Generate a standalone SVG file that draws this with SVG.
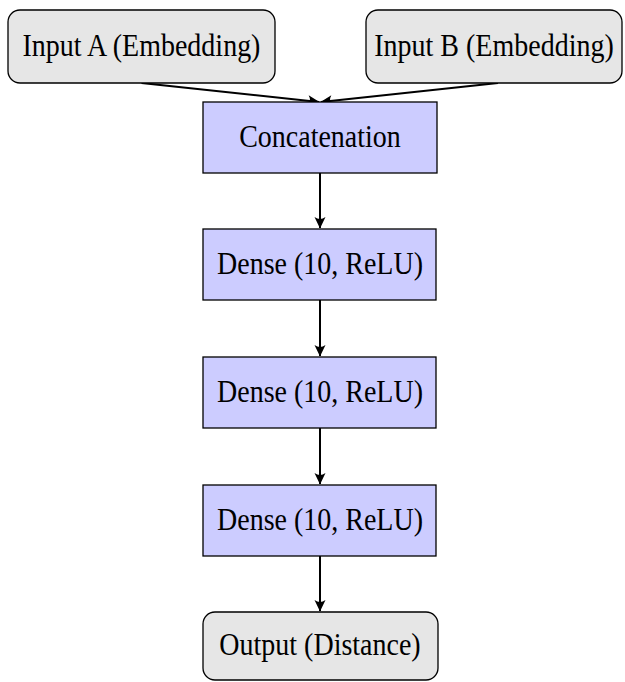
<svg xmlns="http://www.w3.org/2000/svg" width="625" height="682" viewBox="0 0 625 682">
<defs>
<style>
.gray{fill:#e6e6e6;stroke:#000;stroke-width:1.3}
.blue{fill:#ccccff;stroke:#000;stroke-width:1.3}
text{font-family:"Liberation Serif","Times New Roman",serif;font-size:28px;fill:#000;text-anchor:middle}
.edge{stroke:#000;stroke-width:2;fill:none;marker-end:url(#arr)}
</style>
<marker id="arr" markerUnits="userSpaceOnUse" markerWidth="16" markerHeight="16" viewBox="-12 -8 14 16" refX="0" refY="0" orient="auto">
<path d="M0.5,0 L-11,-5.5 Q-7,0 -11,5.5 Z" fill="#000" stroke="none"/>
</marker>
</defs>
<g id="edges">
<path class="edge" d="M141.5,83 L319,102"/>
<path class="edge" d="M498,83 L321,102"/>
<path class="edge" d="M320,173 L320,228"/>
<path class="edge" d="M320,300 L320,356"/>
<path class="edge" d="M320,428 L320,484"/>
<path class="edge" d="M320,556 L320,611"/>
</g>
<g id="inputA"><rect class="gray" x="8" y="10" width="267" height="73" rx="12"/><text transform="translate(141.5,55.5) scale(1,1.12)">Input A (Embedding)</text></g>
<g id="inputB"><rect class="gray" x="366" y="10" width="256" height="73" rx="12"/><text transform="translate(494,55.5) scale(1,1.12)">Input B (Embedding)</text></g>
<g id="concat"><rect class="blue" x="203" y="102" width="234" height="71"/><text transform="translate(320,146.7) scale(1,1.12)">Concatenation</text></g>
<g id="dense1"><rect class="blue" x="203" y="229" width="233" height="71"/><text transform="translate(320,273.5) scale(1,1.12)">Dense (10, ReLU)</text></g>
<g id="dense2"><rect class="blue" x="203" y="357" width="233" height="71"/><text transform="translate(320,401.5) scale(1,1.12)">Dense (10, ReLU)</text></g>
<g id="dense3"><rect class="blue" x="203" y="485" width="233" height="71"/><text transform="translate(320,529.5) scale(1,1.12)">Dense (10, ReLU)</text></g>
<g id="output"><rect class="gray" x="203" y="612" width="235" height="68" rx="12"/><text transform="translate(320,655) scale(1,1.12)">Output (Distance)</text></g>
</svg>
